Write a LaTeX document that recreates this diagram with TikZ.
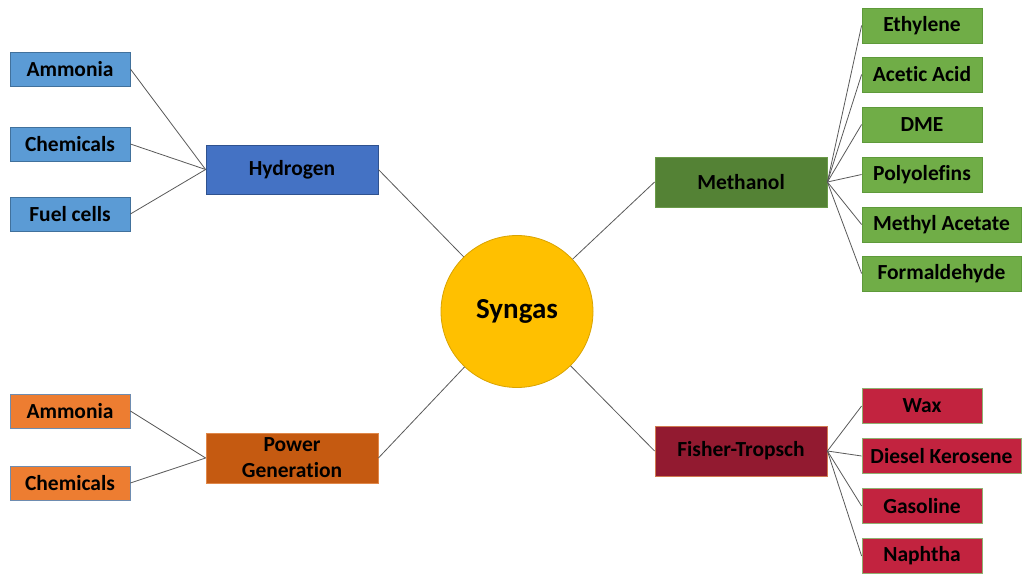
\documentclass[tikz,border=0pt]{standalone}
\usepackage{fontspec}
\setmainfont{Carlito}[Ligatures=NoCommon]
\begin{document}
\begin{tikzpicture}[x=1pt,y=-1pt,
  box/.style={rectangle,inner sep=0pt,line width=0.8pt,font=\fontsize{21.5}{24}\selectfont\bfseries,text=black,align=center},
  lblue/.style={box,fill=c5B9BD5,draw=c41719C,minimum width=120pt,minimum height=34pt},
  lorange/.style={box,fill=cED7D31,draw=c6E8CB0,minimum width=120pt,minimum height=34pt},
  lgreen/.style={box,fill=c70AD47,draw=c5E9A3A,minimum height=35pt},
  lred/.style={box,fill=cC2233F,draw=c8FB070,minimum height=35pt},
  mid/.style={box,minimum width=172pt,minimum height=50pt},
  conn/.style={draw=c595959,line width=0.8pt}]
\definecolor{c5B9BD5}{HTML}{5B9BD5}
\definecolor{c41719C}{HTML}{41719C}
\definecolor{cED7D31}{HTML}{ED7D31}
\definecolor{c6E8CB0}{HTML}{6E8CB0}
\definecolor{c70AD47}{HTML}{70AD47}
\definecolor{c5E9A3A}{HTML}{5E9A3A}
\definecolor{cC2233F}{HTML}{C2233F}
\definecolor{c8FB070}{HTML}{8FB070}
\definecolor{c595959}{HTML}{595959}
\definecolor{hyd}{HTML}{4472C4}
\definecolor{hydb}{HTML}{2F528F}
\definecolor{pow}{HTML}{C55A11}
\definecolor{powb}{HTML}{E0884A}
\definecolor{meth}{HTML}{548235}
\definecolor{methb}{HTML}{6A9A48}
\definecolor{fish}{HTML}{921A30}
\definecolor{fishb}{HTML}{D07A50}
\definecolor{syn}{HTML}{FFC000}
\definecolor{synb}{HTML}{D9A300}
\useasboundingbox (0,0) rectangle (1022,575);

% central circle
\node[circle,fill=syn,draw=synb,line width=0.8pt,minimum size=152pt,inner sep=0pt,font=\fontsize{29}{33}\selectfont\bfseries] (sg) at (517,311.5) {Syngas};

% middle nodes
\node[mid,fill=hyd,draw=hydb,minimum height=49pt] (hy) at (292,169.5) {Hydrogen};
\node[mid,fill=pow,draw=powb] (pg) at (292,458) {Power\\[2pt]Generation};
\node[mid,fill=meth,draw=methb] (me) at (741,182) {Methanol};
\node[mid,fill=fish,draw=fishb] (ft) at (741,451) {Fisher-Tropsch};

% left blue
\node[lblue] (a1) at (70,69) {Ammonia};
\node[lblue] (c1) at (70,144) {Chemicals};
\node[lblue] (f1) at (70,214) {Fuel cells};
% left orange
\node[lorange] (a2) at (70,411) {Ammonia};
\node[lorange] (c2) at (70,483) {Chemicals};

% right green
\node[lgreen,minimum width=120pt] (g1) at (922,25.5) {Ethylene};
\node[lgreen,minimum width=120pt] (g2) at (922,74.5) {Acetic Acid};
\node[lgreen,minimum width=120pt] (g3) at (922,124.5) {DME};
\node[lgreen,minimum width=120pt] (g4) at (922,174.5) {Polyolefins};
\node[lgreen,minimum width=159pt] (g5) at (941.5,224.5) {Methyl Acetate};
\node[lgreen,minimum width=159pt] (g6) at (941.5,273.5) {Formaldehyde};

% right red
\node[lred,minimum width=120pt] (r1) at (922,406) {Wax};
\node[lred,minimum width=159pt] (r2) at (941.5,456) {Diesel Kerosene};
\node[lred,minimum width=120pt] (r3) at (922,506) {Gasoline};
\node[lred,minimum width=120pt] (r4) at (922,556) {Naphtha};

% connectors
\path[conn] (a1.east) -- (hy.west);
\path[conn] (c1.east) -- (hy.west);
\path[conn] (f1.east) -- (hy.west);
\path[conn] (a2.east) -- (pg.west);
\path[conn] (c2.east) -- (pg.west);
\path[conn] (hy.east) -- (sg);
\path[conn] (pg.east) -- (sg);
\path[conn] (me.west) -- (sg);
\path[conn] (ft.west) -- (sg);
\foreach \n in {g1,g2,g3,g4,g5,g6} \path[conn] (me.east) -- (\n.west);
\foreach \n in {r1,r2,r3,r4} \path[conn] (ft.east) -- (\n.west);
\end{tikzpicture}
\end{document}
